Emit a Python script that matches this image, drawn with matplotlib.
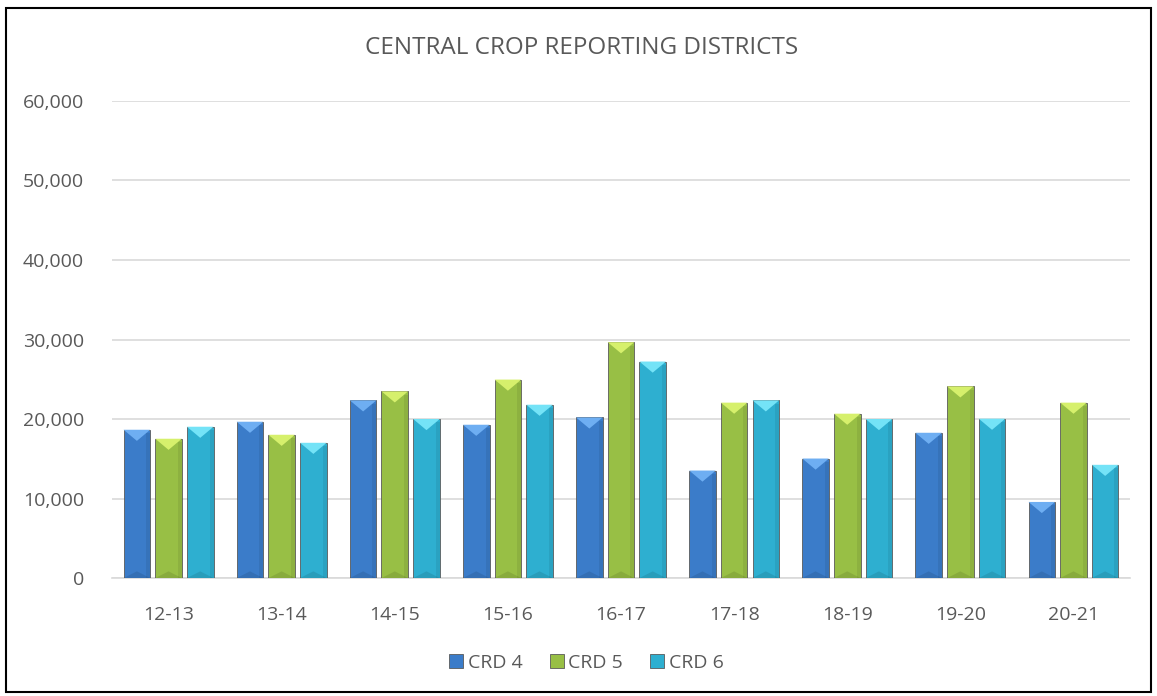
import numpy as np
import matplotlib
matplotlib.use("Agg")
import matplotlib.pyplot as plt
from matplotlib.patches import Polygon, Rectangle
from matplotlib.ticker import FuncFormatter

plt.rcParams['font.family'] = ['Open Sans', 'DejaVu Sans']

seasons = ['12-13', '13-14', '14-15', '15-16', '16-17', '17-18', '18-19', '19-20', '20-21']
crd4 = [18650, 19660, 22350, 19280, 20200, 13520, 15030, 18270, 9570]
crd5 = [17520, 18020, 23480, 24960, 29660, 22060, 20670, 24110, 22060]
crd6 = [19030, 17010, 20000, 21800, 27230, 22350, 20000, 20040, 14240]

series = [('CRD 4', crd4), ('CRD 5', crd5), ('CRD 6', crd6)]
colors = ['#3b7cc9', '#98bf45', '#2eafd0']
tops = ['#6eaef2', '#d6f06c', '#74e3f7']
txt = '#595959'

fig = plt.figure(figsize=(11.57, 6.96), dpi=100)
ax = fig.add_axes([0.0968, 0.1695, 0.8799, 0.6854])

x = np.arange(len(seasons))
w = 0.235
step = 0.28
handles = []
for i, (name, vals) in enumerate(series):
    pos = x + (i - 1) * step
    bars = ax.bar(pos, vals, width=w, color=colors[i], edgecolor='#5a5a5a',
                  linewidth=0.6, zorder=3, label=name)
    handles.append(bars)
    # bevelled look: light chevron on top, soft shade at the bottom and right side
    for b in bars:
        x0, h, bw = b.get_x(), b.get_height(), b.get_width()
        dy = 1400
        ax.add_patch(Polygon([(x0, h), (x0 + bw, h), (x0 + bw / 2, h - dy)],
                             closed=True, facecolor=tops[i], edgecolor='none', zorder=4))
        ax.add_patch(Polygon([(x0, 0), (x0 + bw, 0), (x0 + bw / 2, dy * 0.6)],
                             closed=True, facecolor='black', alpha=0.10,
                             edgecolor='none', zorder=4))
        ax.add_patch(Rectangle((x0 + bw * 0.85, 0), bw * 0.15, h - dy * 0.3,
                               facecolor='black', alpha=0.07, edgecolor='none', zorder=4))

ax.set_xlim(-0.5, len(seasons) - 0.5)
ax.set_ylim(0, 60000)
ax.set_yticks(np.arange(0, 60001, 10000))
ax.yaxis.set_major_formatter(FuncFormatter(lambda v, p: f'{int(v):,}'))
ax.set_xticks(x)
ax.set_xticklabels(seasons)
ax.grid(axis='y', color='#d9d9d9', linewidth=1.2, zorder=0)
for s in ['top', 'right', 'left']:
    ax.spines[s].set_visible(False)
ax.spines['bottom'].set_color('#d9d9d9')
ax.spines['bottom'].set_linewidth(1.2)
ax.tick_params(length=0, colors=txt, labelsize=14)
ax.tick_params(axis='y', pad=20)
ax.tick_params(axis='x', pad=20)

fig.text(0.503, 0.931, 'CENTRAL CROP REPORTING DISTRICTS', ha='center', va='center',
         fontsize=17.5, color=txt)

leg = fig.legend(handles=handles, loc='center', bbox_to_anchor=(0.507, 0.048), ncol=3,
                 frameon=False, fontsize=14, handlelength=0.7, handleheight=0.7,
                 handletextpad=0.25, columnspacing=1.4, labelcolor=txt)

fig.patches.append(Rectangle((0.005, 0.006), 0.99, 0.982, transform=fig.transFigure,
                             fill=False, edgecolor='black', linewidth=1.5))

fig.savefig('out.png', dpi=100)
